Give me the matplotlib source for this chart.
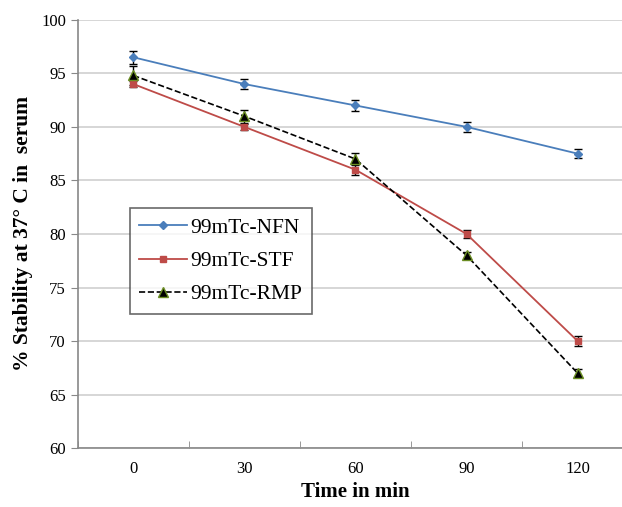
import numpy as np
import matplotlib.pyplot as plt
from matplotlib.lines import Line2D

# 數據
times = ["0", "30", "60", "90", "120"]
nfn = [96.5, 94.0, 92.0, 90.0, 87.5]
stf = [94.0, 90.0, 86.0, 80.0, 70.0]
rmp = [94.8, 91.0, 87.0, 78.0, 67.0]
nfn_err = [0.6, 0.5, 0.5, 0.5, 0.4]
stf_err = [0.3, 0.3, 0.5, 0.4, 0.5]
rmp_err = [0.9, 0.6, 0.6, 0.3, 0.4]

plt.rcParams['font.family'] = ['Liberation Serif', 'DejaVu Serif']

fig = plt.figure(figsize=(6.22, 5.07), dpi=100)
ax = fig.add_axes([0.125, 0.116, 0.893, 0.845])

styles = {
    '99mTc-NFN': dict(color='#4a7ebb', marker='D', markersize=4, linewidth=1.3),
    '99mTc-STF': dict(color='#be4b48', marker='s', markersize=5, linewidth=1.3),
    '99mTc-RMP': dict(color='black', linestyle='--', marker='^', markersize=7,
                      markerfacecolor='black', markeredgecolor='#6b8e23', linewidth=1.2),
}

x = np.arange(len(times))
for name, y, err in [('99mTc-NFN', nfn, nfn_err), ('99mTc-STF', stf, stf_err),
                     ('99mTc-RMP', rmp, rmp_err)]:
    ax.errorbar(x, y, yerr=err, ecolor='black', elinewidth=1, capsize=3,
                zorder=3, **styles[name])

ax.set_xlim(-0.5, 4.5)
ax.set_ylim(60, 100)
ax.set_yticks(np.arange(60, 101, 5))
ax.set_xticks(x)
ax.set_xticklabels(times)
ax.set_xticks(np.arange(-0.5, 4.6, 1), minor=True)
ax.tick_params(axis='x', which='major', length=0, labelsize=12, pad=9)
ax.tick_params(axis='x', which='minor', length=5, color='#888888', direction='in')
ax.tick_params(axis='y', labelsize=12, length=5, color='#888888', direction='out')
ax.grid(axis='y', color='#d0d0d0', linewidth=1.2)
ax.set_axisbelow(True)

for s in ['top', 'right']:
    ax.spines[s].set_visible(False)
for s in ['left', 'bottom']:
    ax.spines[s].set_color('#888888')
    ax.spines[s].set_linewidth(1.2)

ax.set_xlabel('Time in min', fontsize=15, fontweight='bold', labelpad=4)
ax.set_ylabel('% Stability at 37° C in  serum', fontsize=15.5, fontweight='bold', labelpad=6)

handles = [Line2D([], [], **styles[n]) for n in styles]
leg = ax.legend(handles, list(styles), loc='upper left', bbox_to_anchor=(0.082, 0.576),
                fontsize=15.5, frameon=True, fancybox=False, edgecolor='#444444',
                handlelength=2.2, borderpad=0.45, labelspacing=0.62, handletextpad=0.15,
                borderaxespad=0.3)
leg.get_frame().set_linewidth(1.2)

fig.savefig('out.png', dpi=100)
